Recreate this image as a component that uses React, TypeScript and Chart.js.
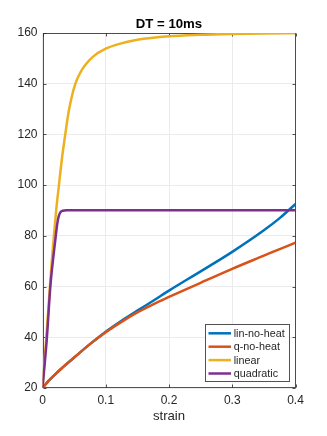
import React, { useEffect, useRef } from "react";
import { Chart, registerables } from "chart.js";

Chart.register(...registerables);

const titleText = "DT = 10ms";
const xLabel = "strain";
const xTicks = [0, 0.1, 0.2, 0.3, 0.4];
const yTicks = [20, 40, 60, 80, 100, 120, 140, 160];

const seriesNames = ["lin-no-heat", "q-no-heat", "linear", "quadratic"];
const seriesColors = ["#0072BD", "#D95319", "#EDB120", "#7E2F8E"];

const strainNoHeat = [0, 0.01, 0.02, 0.03, 0.05, 0.075, 0.1, 0.125, 0.15, 0.175, 0.2, 0.25, 0.3, 0.35, 0.375, 0.4];
const linNoHeat = [20, 22.9, 25.4, 27.7, 32.0, 37.3, 42.2, 46.5, 50.5, 54.4, 58.4, 66.0, 73.7, 82.2, 87.0, 92.6];
const qNoHeat = [20, 22.9, 25.4, 27.7, 32.0, 37.3, 42.0, 46.1, 49.8, 53.0, 55.9, 61.5, 67.0, 72.2, 74.8, 77.3];

const strainLinear = [0, 0.006, 0.012, 0.015, 0.018, 0.022, 0.026, 0.031, 0.036, 0.04, 0.045, 0.052, 0.06, 0.067, 0.08, 0.1, 0.12, 0.15, 0.2, 0.25, 0.3, 0.35, 0.4];
const linear = [20, 40, 61, 71, 80, 91, 100, 111, 120, 127, 133.5, 140, 144.5, 147.2, 150.7, 153.8, 155.6, 157.3, 158.7, 159.3, 159.65, 159.85, 159.95];

const strainQuad = [0, 0.007, 0.0124, 0.0166, 0.021, 0.0235, 0.0255, 0.028, 0.032, 0.038, 0.06, 0.1, 0.2, 0.3, 0.4];
const quadratic = [20, 40, 60, 70.5, 80, 85, 87.6, 89.2, 89.9, 90.1, 90.1, 90.1, 90.1, 90.1, 90.1];

const FONT = "'Liberation Sans', Arial, Helvetica, sans-serif";
const AX = "#262626";

function pts(xs: number[], ys: number[]) {
  return xs.map((x, i) => ({ x, y: ys[i] }));
}

const decorPlugin = {
  id: "decor",
  beforeDatasetsDraw(chart: any) {
    const { ctx, chartArea: a, scales } = chart;
    ctx.save();
    ctx.strokeStyle = "rgba(38,38,38,0.8)";
    ctx.lineWidth = 1;
    const L = Math.round(a.left) + 0.5;
    const R = Math.round(a.right) - 0.5;
    const T = Math.round(a.top) + 0.5;
    const B = Math.round(a.bottom) - 0.5;
    ctx.strokeRect(L, T, R - L, B - T);
    ctx.beginPath();
    for (const v of xTicks) {
      const px = Math.round(scales.x.getPixelForValue(v)) + 0.5;
      ctx.moveTo(px, B);
      ctx.lineTo(px, B - 3);
      ctx.moveTo(px, T);
      ctx.lineTo(px, T + 3);
    }
    for (const v of yTicks) {
      const py = Math.round(scales.y.getPixelForValue(v)) + 0.5;
      ctx.moveTo(L, py);
      ctx.lineTo(L + 3, py);
      ctx.moveTo(R, py);
      ctx.lineTo(R - 3, py);
    }
    ctx.stroke();
    ctx.restore();
  },
  afterDatasetsDraw(chart: any) {
    const { ctx, chartArea: a } = chart;
    ctx.save();
    ctx.fillStyle = "#000";
    ctx.font = `bold 13.2px ${FONT}`;
    ctx.textAlign = "center";
    ctx.textBaseline = "middle";
    ctx.fillText(titleText, (a.left + a.right) / 2, 24);
    ctx.fillStyle = AX;
    ctx.font = `13.2px ${FONT}`;
    ctx.fillText(xLabel, (a.left + a.right) / 2, 416);
    const bx = 205.5, by = 324.5, bw = 84, bh = 57;
    ctx.fillStyle = "#fff";
    ctx.fillRect(bx, by, bw, bh);
    ctx.strokeStyle = "rgba(38,38,38,0.8)";
    ctx.lineWidth = 1;
    ctx.strokeRect(bx, by, bw, bh);
    ctx.font = `10.8px ${FONT}`;
    ctx.textAlign = "left";
    ctx.textBaseline = "middle";
    chart.data.datasets.forEach((ds: any, i: number) => {
      const y = 333.3 + i * 13.4;
      ctx.strokeStyle = ds.borderColor;
      ctx.lineWidth = 2.5;
      ctx.beginPath();
      ctx.moveTo(208.5, y);
      ctx.lineTo(231, y);
      ctx.stroke();
      ctx.fillStyle = AX;
      ctx.fillText(ds.label, 233.7, y + 0.5);
    });
    ctx.restore();
  },
};

export default function App() {
  const ref = useRef<HTMLCanvasElement>(null);
  useEffect(() => {
    if (!ref.current) return;
    const mk = (i: number, data: any[]) => ({
      label: seriesNames[i],
      data,
      order: 4 - i,
      borderColor: seriesColors[i],
      backgroundColor: seriesColors[i],
      borderWidth: 2.5,
      pointRadius: 0,
      cubicInterpolationMode: "monotone" as const,
      fill: false,
    });
    const chart = new Chart(ref.current, {
      type: "line",
      data: {
        datasets: [
          mk(0, pts(strainNoHeat, linNoHeat)),
          mk(1, pts(strainNoHeat, qNoHeat)),
          mk(2, pts(strainLinear, linear)),
          mk(3, pts(strainQuad, quadratic)),
        ],
      },
      options: {
        animation: false,
        responsive: false,
        devicePixelRatio: 1,
        layout: { padding: { left: 0, top: 33, right: 31.5, bottom: 0 } },
        plugins: { legend: { display: false }, tooltip: { enabled: false }, title: { display: false } },
        scales: {
          x: {
            type: "linear",
            min: 0,
            max: 0.4,
            afterBuildTicks: (s: any) => { s.ticks = xTicks.map((v) => ({ value: v })); },
            afterFit: (s: any) => { s.height = 48; },
            ticks: {
              autoSkip: false,
              maxRotation: 0,
              padding: 5,
              color: AX,
              font: { family: FONT, size: 12 },
              callback: (v: any) => (v === 0 ? "0" : String(Number(v).toFixed(1))),
            },
            grid: { color: "#ebebeb", drawTicks: false },
            border: { display: false },
          },
          y: {
            type: "linear",
            min: 20,
            max: 160,
            afterBuildTicks: (s: any) => { s.ticks = yTicks.map((v) => ({ value: v })); },
            afterFit: (s: any) => { s.width = 42.5; },
            ticks: {
              autoSkip: false,
              padding: 5,
              color: AX,
              font: { family: FONT, size: 12 },
            },
            grid: { color: "#ebebeb", drawTicks: false },
            border: { display: false },
          },
        },
      },
      plugins: [decorPlugin],
    });
    return () => chart.destroy();
  }, []);
  return (
    <div style={{ position: "fixed", left: 0, top: 0, width: 327, height: 436, background: "#fff" }}>
      <canvas ref={ref} width={327} height={436} style={{ width: 327, height: 436, display: "block" }} />
    </div>
  );
}
